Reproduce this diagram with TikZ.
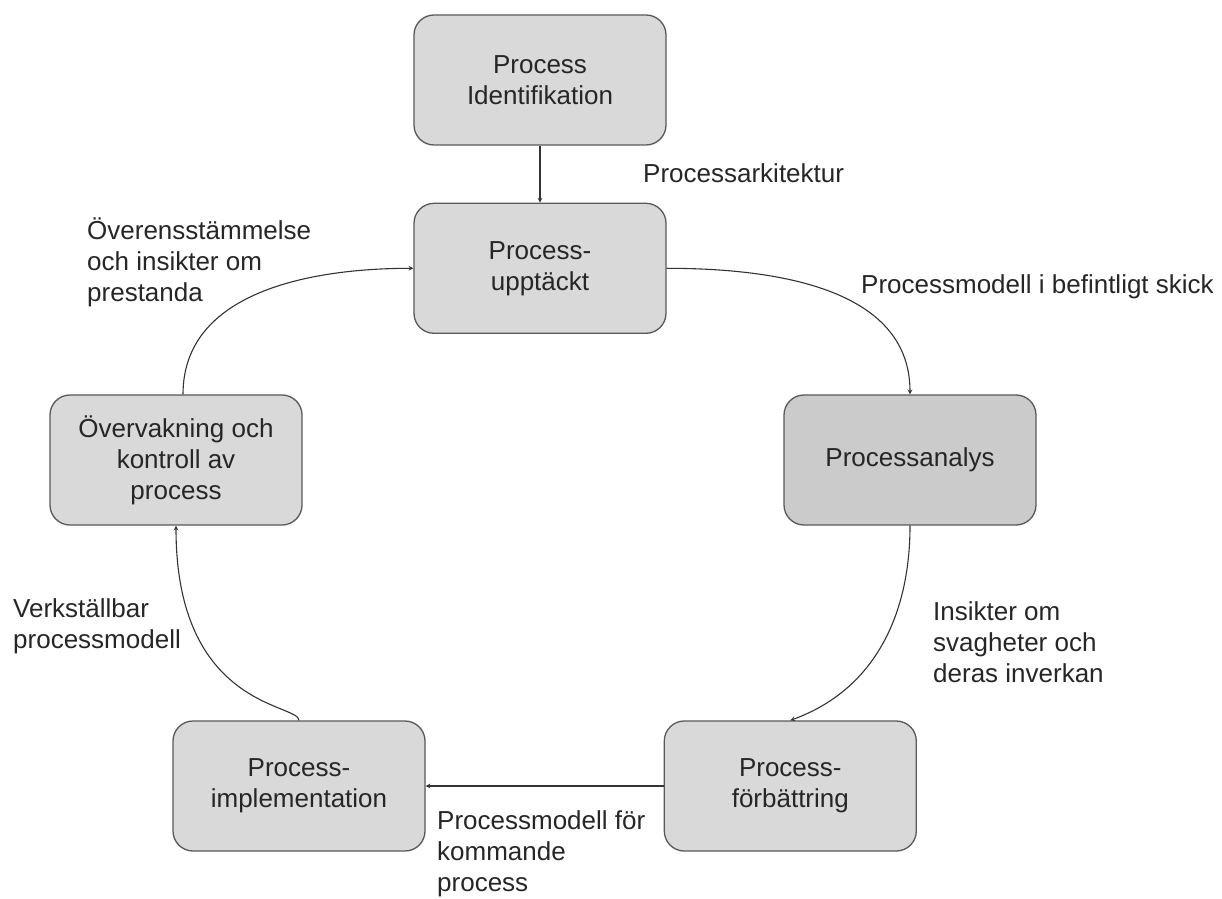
\documentclass[tikz,border=0pt]{standalone}
\usepackage{fontspec}
\setmainfont{Liberation Sans}
\usepackage{tikz}
\usetikzlibrary{positioning}
\definecolor{stagegray}{HTML}{D9D9D9}
\definecolor{analysgray}{HTML}{CBCBCB}
\tikzset{
every node/.style={font=\fontsize{26}{31}\selectfont, text=black!85}
, stagebox/.style={draw=black!65, line width=1.3pt, fill=stagegray, rounded corners=20pt,
  minimum width=252pt, minimum height=130pt, align=center}
, flowlabel/.style={anchor=north west, inner sep=0pt, align=left}
, flow/.style={-stealth, draw=black!80, line width=1.1pt}}

\begin{document}
\begin{tikzpicture}[x=1pt, y=1pt]
\useasboundingbox (0,0) rectangle (1222,898);
\node[stagebox] at (540, 818) (ident) {Process\\Identifikation};
\node[stagebox, below=57pt of ident] (upp) {Process-\\upptäckt};
\node[stagebox, fill=analysgray] at (910, 438) (analys) {Processanalys};
\node[stagebox] at (176, 438) (overv) {Övervakning och\\kontroll av\\process};
\node[stagebox] at (299, 112) (impl) {Process-\\implementation};
\node[stagebox, right=238pt of impl] (forb) {Process-\\förbättring};
% labels
\node[flowlabel] at (643, 735) (arkitektur) {Processarkitektur};
\node[flowlabel] at (861, 624) (befintligt) {Processmodell i befintligt skick};
\node[flowlabel] at (933, 297) (insikter) {Insikter om\\svagheter och\\deras inverkan};
\node[flowlabel] at (437, 88) (kommande) {Processmodell för\\kommande\\process};
\node[flowlabel] at (13, 300) (verkstallbar) {Verkställbar\\processmodell};
\node[flowlabel] at (87, 680) (overens) {Överensstämmelse\\och insikter om\\prestanda};
% connectors
\draw [flow] (ident) -- (upp);
\draw [flow] (upp.east) to [out=0, in=90] (analys.north);
\draw [flow] (analys.south) to [out=-90, in=20] (forb.north);
\draw [flow] (forb) -- (impl);
\draw [flow] (impl.north) .. controls +(0,17) and +(0,-183) .. (overv.south);
\draw [flow] ([xshift=7pt]overv.north) to [out=90, in=180] (upp.west);
\end{tikzpicture}
\end{document}
